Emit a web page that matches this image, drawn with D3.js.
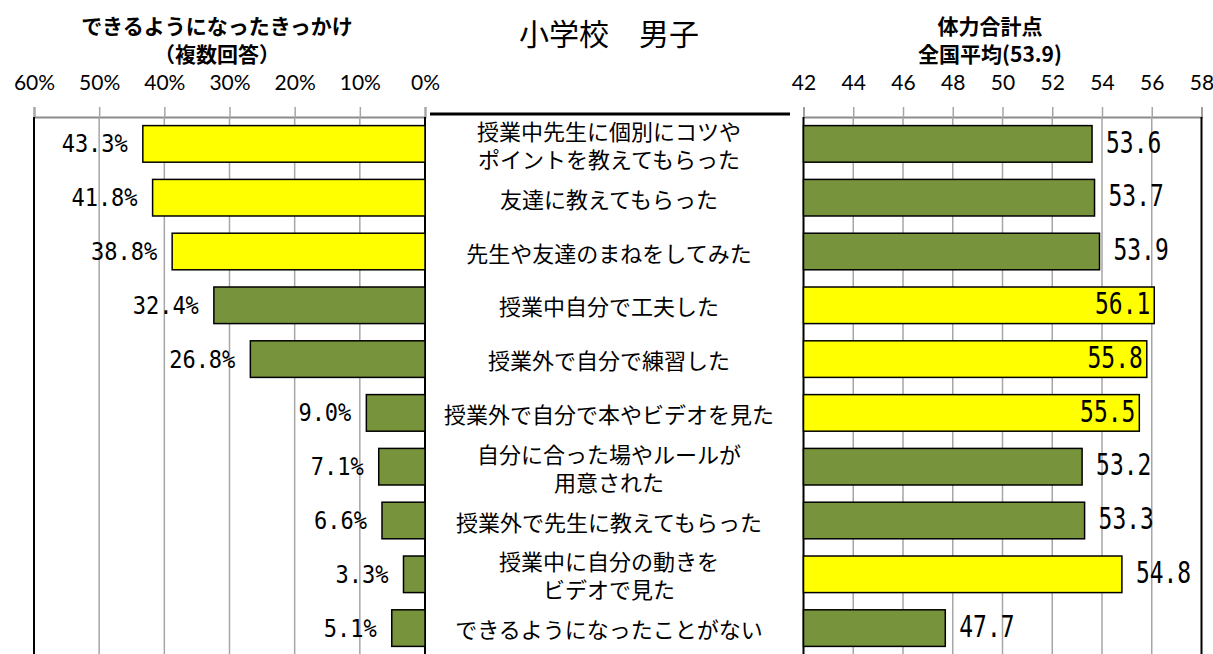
<!DOCTYPE html>
<html>
<head>
<meta charset="utf-8">
<script src="https://cdn.jsdelivr.net/npm/d3@7"></script>
<style>
  body { margin: 0; background: #fff; }
  svg { display: block; }
</style>
</head>
<body>
<div id="chart"></div>
<script>
// categories (two-line labels split with \n)
const categories = [
  "授業中先生に個別にコツや\nポイントを教えてもらった",
  "友達に教えてもらった",
  "先生や友達のまねをしてみた",
  "授業中自分で工夫した",
  "授業外で自分で練習した",
  "授業外で自分で本やビデオを見た",
  "自分に合った場やルールが\n用意された",
  "授業外で先生に教えてもらった",
  "授業中に自分の動きを\nビデオで見た",
  "できるようになったことがない"
];
// % who answered (multiple answers)
const sharePct = [43.3, 41.8, 38.8, 32.4, 26.8, 9.0, 7.1, 6.6, 3.3, 5.1];
// fitness total score
const fitnessScore = [53.6, 53.7, 53.9, 56.1, 55.8, 55.5, 53.2, 53.3, 54.8, 47.7];
const nationalAvg = 53.9;

const pctTicks = [60, 50, 40, 30, 20, 10, 0];
const scoreTicks = [42, 44, 46, 48, 50, 52, 54, 56, 58];

const width = 1213, height = 654;
const yellow = "#FFFF00", green = "#77933C";
const gridColor = "#a6a6a6";

const svg = d3.select("#chart")
  .append("svg")
    .attr("width", width)
    .attr("height", height);

// scales
const xLeft = d3.scaleLinear().domain([0, 60]).range([425, 34]);
const xRight = d3.scaleLinear().domain([42, 58]).range([803.5, 1201.5]);
const y = d3.scaleBand()
  .domain(categories)
  .range([117, 655])
  .paddingInner(0.32)
  .paddingOuter(0.16);

const plotTop = 117, plotBottom = 655;

// ---- titles
svg.append("text")
  .text("小学校　男子")
  .attr("x", 609).attr("y", 32)
  .attr("text-anchor", "middle")
  .attr("dominant-baseline", "central")
  .style("font-family", "'Noto Sans CJK JP'")
  .style("font-size", "30px")
  .attr("fill", "#000");

const leftTitle = ["できるようになったきっかけ", "（複数回答）"];
const rightTitle = ["体力合計点", "全国平均(" + nationalAvg + ")"];
[[leftTitle, 217], [rightTitle, 990]].forEach(([lines, cx]) => {
  svg.append("g").selectAll("text")
    .data(lines)
    .join("text")
      .text(d => d)
      .attr("x", cx)
      .attr("y", (d, i) => 25 + i * 28)
      .attr("text-anchor", "middle")
      .attr("dominant-baseline", "central")
      .style("font-family", "'Noto Sans CJK JP'")
      .style("font-weight", 700)
      .style("font-size", "21px")
      .attr("fill", "#000");
});

// ---- left panel (percent)
const leftG = svg.append("g");

// top axis with ticks going up
const leftAxis = d3.axisTop(xLeft)
  .tickValues(pctTicks)
  .tickSize(10)
  .tickFormat(d => d + "%");
leftG.append("g")
  .attr("transform", `translate(0, ${plotTop})`)
  .call(leftAxis)
  .call(g => g.select(".domain").attr("stroke", "#8c8c8c").attr("stroke-width", 2))
  .call(g => g.selectAll(".tick line").attr("stroke", gridColor).attr("stroke-width", 1.5))
  .call(g => g.selectAll(".tick text")
      .attr("y", -27)
      .attr("fill", "#000")
      .style("font-family", "Lato, 'Noto Sans'")
      .style("font-size", "21px"));

// gridlines
leftG.append("g").selectAll("line")
  .data(pctTicks)
  .join("line")
    .attr("x1", d => xLeft(d)).attr("x2", d => xLeft(d))
    .attr("y1", plotTop).attr("y2", plotBottom)
    .attr("stroke", d => (d === 0 || d === 60) ? "#000" : gridColor)
    .attr("stroke-width", d => (d === 0 || d === 60) ? 2 : 1.5);

leftG.append("g").selectAll("rect")
  .data(sharePct)
  .join("rect")
    .attr("x", d => xLeft(d))
    .attr("y", (d, i) => y(categories[i]))
    .attr("width", d => xLeft(0) - xLeft(d))
    .attr("height", y.bandwidth())
    .attr("fill", (d, i) => i < 3 ? yellow : green)
    .attr("stroke", "#000")
    .attr("stroke-width", 1.5);

leftG.append("g").selectAll("g")
  .data(sharePct)
  .join("g")
    .attr("transform", (d, i) =>
      `translate(${xLeft(d) - 15}, ${y(categories[i]) + y.bandwidth() / 2}) scale(0.88, 1)`)
  .append("text")
    .text(d => d.toFixed(1) + "%")
    .attr("text-anchor", "end")
    .attr("dominant-baseline", "central")
    .style("font-family", "'DejaVu Sans Mono'")
    .style("font-size", "25px")
    .attr("fill", "#000");

// ---- right panel (fitness score)
const rightG = svg.append("g");

const rightAxis = d3.axisTop(xRight)
  .tickValues(scoreTicks)
  .tickSize(10);
rightG.append("g")
  .attr("transform", `translate(0, ${plotTop})`)
  .call(rightAxis)
  .call(g => g.select(".domain").attr("stroke", "#8c8c8c").attr("stroke-width", 2))
  .call(g => g.selectAll(".tick line").attr("stroke", gridColor).attr("stroke-width", 1.5))
  .call(g => g.selectAll(".tick text")
      .attr("y", -27)
      .attr("fill", "#000")
      .style("font-family", "Lato, 'Noto Sans'")
      .style("font-size", "21px"));

rightG.append("g").selectAll("line")
  .data(scoreTicks)
  .join("line")
    .attr("x1", d => xRight(d)).attr("x2", d => xRight(d))
    .attr("y1", plotTop).attr("y2", plotBottom)
    .attr("stroke", d => (d === 42 || d === 58) ? "#000" : gridColor)
    .attr("stroke-width", d => (d === 42 || d === 58) ? 2 : 1.5);

rightG.append("g").selectAll("rect")
  .data(fitnessScore)
  .join("rect")
    .attr("x", xRight(42))
    .attr("y", (d, i) => y(categories[i]))
    .attr("width", d => xRight(d) - xRight(42))
    .attr("height", y.bandwidth())
    .attr("fill", d => d > nationalAvg ? yellow : green)
    .attr("stroke", "#000")
    .attr("stroke-width", 1.5);

// label goes inside the bar end when it would spill out of the plot
const labelW = 56, sx = 0.74;
rightG.append("g").selectAll("g")
  .data(fitnessScore)
  .join("g")
    .attr("transform", (d, i) => {
      const out = xRight(d) + 14 + labelW <= xRight(58);
      const x = out ? xRight(d) + 14 : xRight(d) - 4;
      return `translate(${x}, ${y(categories[i]) + y.bandwidth() / 2 - 2}) scale(${sx}, 1)`;
    })
  .append("text")
    .text(d => d.toFixed(1))
    .attr("text-anchor", d => xRight(d) + 14 + labelW <= xRight(58) ? "start" : "end")
    .attr("dominant-baseline", "central")
    .style("font-family", "'DejaVu Sans Mono'")
    .style("font-size", "31px")
    .attr("fill", "#000");

// ---- centre category labels
svg.append("line")
  .attr("x1", 430).attr("x2", 790)
  .attr("y1", 114).attr("y2", 114)
  .attr("stroke", "#000")
  .attr("stroke-width", 3);

const catG = svg.append("g").selectAll("text")
  .data(categories)
  .join("text")
    .attr("text-anchor", "middle")
    .attr("dominant-baseline", "central")
    .style("font-family", "'Noto Sans CJK JP'")
    .style("font-size", "22px")
    .attr("fill", "#000");

catG.each(function(d) {
  const lines = d.split("\n");
  const cy = y(d) + y.bandwidth() / 2;
  d3.select(this).selectAll("tspan")
    .data(lines)
    .join("tspan")
      .attr("x", 609)
      .attr("y", (l, i) => cy + (i - (lines.length - 1) / 2) * 28)
      .text(l => l);
});
</script>
</body>
</html>
